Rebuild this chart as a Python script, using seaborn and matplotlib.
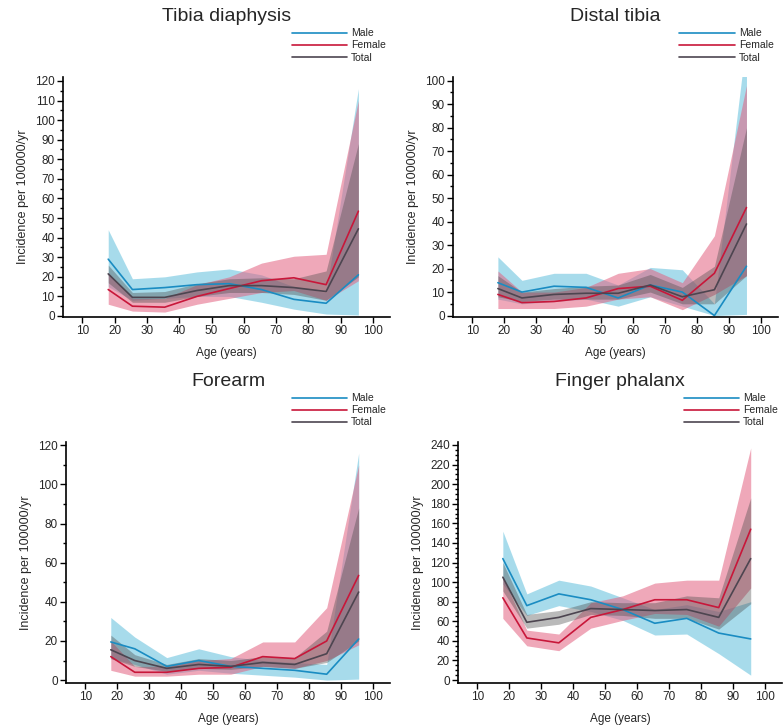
import pandas as pd
import seaborn as sns
import matplotlib.pyplot as plt
from matplotlib.ticker import MultipleLocator

# age group mid points
ages = [18, 25.5, 35.5, 45.5, 55.5, 65.5, 75.5, 85.5, 95.5]
sexes = ["Male", "Female", "Total"]

# Tibia diaphysis
td_male = [29, 13.5, 14.5, 16, 16.5, 13.5, 8.5, 6.5, 21]
td_male_lo = [15, 8, 9, 10, 10, 7, 3.5, 1, 0.5]
td_male_hi = [44, 19, 20, 22.5, 24, 21, 15, 12, 116]
td_female = [13.5, 5, 4.5, 10, 14, 18, 19.5, 16, 53.5]
td_female_lo = [6, 2.5, 2, 6, 9, 12, 13, 8, 18]
td_female_hi = [22, 9, 9, 16, 20, 27, 30.5, 31.5, 110]
td_total = [21.5, 9.5, 9.5, 13, 15.5, 15.5, 14.5, 12.5, 44.5]
td_total_lo = [17, 7, 7, 10, 12, 12, 11, 8, 20]
td_total_hi = [26, 12, 12.5, 16.5, 19, 19.5, 19, 23, 88]

# Distal tibia
dt_male = [14, 10, 12.5, 12, 7.5, 13, 10, 0, 21]
dt_male_lo = [7, 5, 6, 7, 4, 8, 4, 0, 0.5]
dt_male_hi = [25, 15, 18, 18, 13, 20.5, 19.5, 5, 118]
dt_female = [9, 5.5, 6, 7.5, 11.5, 12.5, 6.5, 18, 46]
dt_female_lo = [3, 3, 3, 4, 7, 8, 2.5, 9, 17]
dt_female_hi = [19, 10, 10, 12, 18, 20, 14, 34, 98]
dt_total = [11.5, 7.5, 9, 9.5, 9.5, 13, 8, 11, 39]
dt_total_lo = [8, 6, 7, 7, 7, 10, 5, 5, 17]
dt_total_hi = [17, 10, 11.5, 12.5, 13, 17.5, 12, 21, 80]

# Forearm
fa_male = [19.5, 16, 7, 10, 7, 6, 5, 3, 21]
fa_male_lo = [11, 8, 3, 5, 3.5, 2.5, 1.5, 0, 0.5]
fa_male_hi = [32, 22, 11.5, 16, 12, 10, 9, 8, 116]
fa_female = [12, 4, 4, 6, 6.5, 12, 11, 20, 53.5]
fa_female_lo = [5, 2, 2, 3, 3, 7, 6, 10, 18]
fa_female_hi = [20, 7, 7, 10, 11, 19.5, 19.5, 37, 110]
fa_total = [15.5, 10, 6, 8, 7, 9, 8, 13.5, 45]
fa_total_lo = [11, 7, 4.5, 6, 5.5, 7, 6, 9, 20]
fa_total_hi = [23, 13, 8, 11, 10, 12, 11.5, 25, 88]

# Finger phalanx
fp_male = [124, 76, 88, 82, 72, 58, 63, 48, 42]
fp_male_lo = [98, 66, 76, 70, 61, 46, 47, 27, 5]
fp_male_hi = [152, 88, 102, 96, 84, 72, 77, 70, 80]
fp_female = [84, 43, 38, 64, 72, 82, 82, 74, 154]
fp_female_lo = [63, 35, 30, 53, 61, 68, 67, 55, 94]
fp_female_hi = [105, 51, 47, 79, 86, 99, 102, 102, 237]
fp_total = [105, 59, 64, 73, 72, 71, 72, 64, 124]
fp_total_lo = [91, 53, 57, 67, 66, 63, 63, 52, 78]
fp_total_hi = [120, 67, 71, 80, 79, 79, 86, 84, 186]

line_colors = {"Male": "#1a8cc2", "Female": "#c8173a", "Total": "#4d4550"}
band_colors = {"Male": "#51b9d9", "Female": "#e36180", "Total": "#4a4a4a"}
band_alpha = {"Male": 0.5, "Female": 0.55, "Total": 0.38}


def make_df(m, m_lo, m_hi, f, f_lo, f_hi, t, t_lo, t_hi):
    rows = []
    for sex, v, lo, hi in [("Male", m, m_lo, m_hi), ("Female", f, f_lo, f_hi), ("Total", t, t_lo, t_hi)]:
        for a, val, l, h in zip(ages, v, lo, hi):
            rows.append({"age": a, "sex": sex, "value": val, "lo": l, "hi": h})
    return pd.DataFrame(rows)


panels = [
    ("Tibia diaphysis", make_df(td_male, td_male_lo, td_male_hi, td_female, td_female_lo, td_female_hi,
                                td_total, td_total_lo, td_total_hi),
     [0.0805, 0.5628, 0.4176, 0.331], (-0.5, 122), 10, 5),
    ("Distal tibia", make_df(dt_male, dt_male_lo, dt_male_hi, dt_female, dt_female_lo, dt_female_hi,
                             dt_total, dt_total_lo, dt_total_hi),
     [0.5785, 0.5628, 0.415, 0.331], (-0.6, 101.6), 10, 5),
    ("Forearm", make_df(fa_male, fa_male_lo, fa_male_hi, fa_female, fa_female_lo, fa_female_hi,
                        fa_total, fa_total_lo, fa_total_hi),
     [0.0843, 0.0579, 0.4138, 0.3324], (-1.5, 121.7), 20, 10),
    ("Finger phalanx", make_df(fp_male, fp_male_lo, fp_male_hi, fp_female, fp_female_lo, fp_female_hi,
                               fp_total, fp_total_lo, fp_total_hi),
     [0.585, 0.0579, 0.4138, 0.3324], (-3, 243), 20, 5),
]

sns.set_style("ticks")
plt.rcParams["font.family"] = ["Liberation Sans", "DejaVu Sans"]

fig = plt.figure(figsize=(7.83, 7.25), dpi=100)

for title, df, pos, ylim, major, minor in panels:
    ax = fig.add_axes(pos)
    # confidence bands
    for sex in sexes:
        d = df[df["sex"] == sex]
        ax.fill_between(d["age"], d["lo"], d["hi"], color=band_colors[sex], alpha=band_alpha[sex], lw=0)
    sns.lineplot(data=df, x="age", y="value", hue="sex", hue_order=sexes,
                 palette=line_colors, lw=1.2, ax=ax)
    ax.set_xlim(4, 105.3)
    ax.set_ylim(*ylim)
    ax.xaxis.set_major_locator(MultipleLocator(10))
    ax.yaxis.set_major_locator(MultipleLocator(major))
    ax.yaxis.set_minor_locator(MultipleLocator(minor))
    ax.tick_params(axis="both", which="major", labelsize=8.5, length=4, width=1, color="black", pad=2)
    ax.tick_params(axis="y", which="minor", length=2, width=1, color="black")
    sns.despine(ax=ax)
    for s in ["left", "bottom"]:
        ax.spines[s].set_linewidth(1.2)
        ax.spines[s].set_color("black")
    ax.set_xlabel("Age (years)", fontsize=8.5, labelpad=7)
    ax.set_ylabel("Incidence per 100000/yr", fontsize=9, labelpad=4)
    ax.set_title(title, fontsize=14, pad=40)
    ax.legend(loc="upper right", bbox_to_anchor=(1.0, 1.22), frameon=False, fontsize=7.5,
              handlelength=5.3, labelspacing=0.2, handletextpad=0.4, borderaxespad=0,
              title=None)

fig.savefig("out.png", dpi=100)
